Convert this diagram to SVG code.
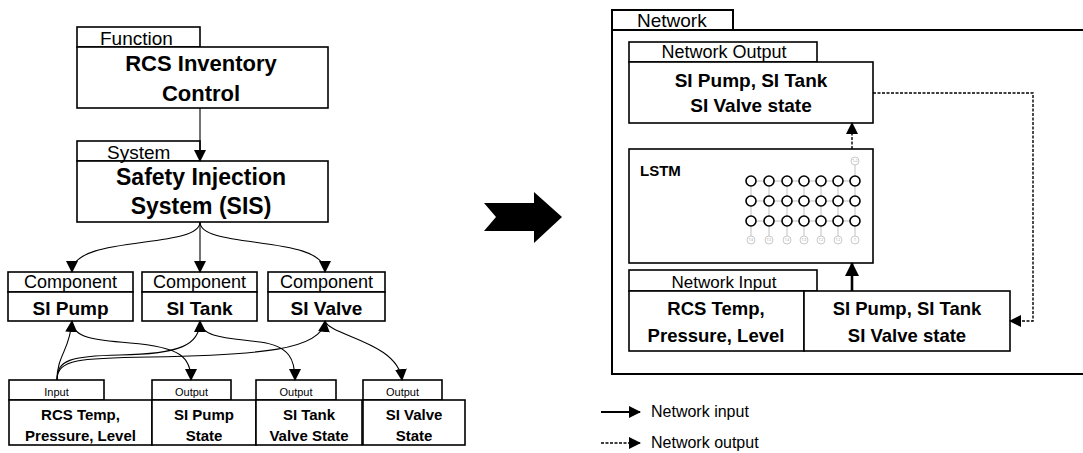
<svg xmlns="http://www.w3.org/2000/svg" width="1083" height="453" viewBox="0 0 1083 453">
<style>
.box{fill:#fff;stroke:#000;stroke-width:1.6}
.nbox{fill:#fff;stroke:#000;stroke-width:2}
.t{font-family:"Liberation Sans",Arial,sans-serif;fill:#000}
.b{font-weight:bold}
.c{text-anchor:middle}
.con{fill:none;stroke:#000;stroke-width:1.1}
.dash{fill:none;stroke:#000;stroke-width:1.4;stroke-dasharray:3,1.5}
.cell{fill:#fff;stroke:#000;stroke-width:1.6}
.inp{fill:#fff;stroke:#bbb;stroke-width:0.8}
.lk{stroke:#999;stroke-width:0.6}
.tiny{font-family:"Liberation Sans",Arial,sans-serif;font-size:3px;fill:#999;text-anchor:middle}
</style>
<defs>
<marker id="ah" markerUnits="userSpaceOnUse" markerWidth="12" markerHeight="12" viewBox="0 0 12 12" refX="11" refY="6" orient="auto">
<path d="M0,0 L12,6 L0,12 Z" fill="#000"/>
</marker>
<marker id="ahb" markerUnits="userSpaceOnUse" markerWidth="14" markerHeight="14" viewBox="0 0 14 14" refX="13" refY="7" orient="auto">
<path d="M0,0 L14,7 L0,14 Z" fill="#000"/>
</marker>
</defs>

<!-- Left hierarchy -->
<g id="function">
<rect class="box" x="77" y="27" width="123" height="20"/>
<rect class="box" x="77" y="47" width="251" height="61"/>
<text class="t" x="100" y="45" font-size="19">Function</text>
<text class="t b c" x="201" y="71" font-size="22">RCS Inventory</text>
<text class="t b c" x="201" y="101" font-size="22">Control</text>
</g>
<g id="system">
<rect class="box" x="77" y="141" width="123" height="20"/>
<rect class="box" x="77" y="161" width="251" height="61"/>
<text class="t" x="107" y="159" font-size="19">System</text>
<text class="t b c" x="201" y="185" font-size="23">Safety Injection</text>
<text class="t b c" x="201" y="214" font-size="23">System (SIS)</text>
</g>
<g id="si-pump">
<rect class="box" x="8" y="272" width="125" height="20"/>
<rect class="box" x="8" y="292" width="125" height="29"/>
<text class="t c" x="70.5" y="288" font-size="18">Component</text>
<text class="t b c" x="70.5" y="315" font-size="19">SI Pump</text>
</g>
<g id="si-tank">
<rect class="box" x="142" y="272" width="115" height="20"/>
<rect class="box" x="142" y="292" width="115" height="29"/>
<text class="t c" x="199.5" y="288" font-size="18">Component</text>
<text class="t b c" x="199.5" y="315" font-size="19">SI Tank</text>
</g>
<g id="si-valve">
<rect class="box" x="268" y="272" width="117" height="20"/>
<rect class="box" x="268" y="292" width="117" height="29"/>
<text class="t c" x="326.5" y="288" font-size="18">Component</text>
<text class="t b c" x="326.5" y="315" font-size="19">SI Valve</text>
</g>
<g id="input-rcs">
<rect class="box" x="9" y="380" width="95" height="20"/>
<rect class="box" x="9" y="400" width="143" height="45"/>
<text class="t c" x="56.5" y="396" font-size="11">Input</text>
<text class="t b c" x="80.5" y="420" font-size="15">RCS Temp,</text>
<text class="t b c" x="80.5" y="441" font-size="15">Pressure, Level</text>
</g>
<g id="output-pump">
<rect class="box" x="152" y="380" width="79" height="20"/>
<rect class="box" x="152" y="400" width="104" height="45"/>
<text class="t c" x="191.5" y="396" font-size="11">Output</text>
<text class="t b c" x="204" y="420" font-size="15">SI Pump</text>
<text class="t b c" x="204" y="441" font-size="15">State</text>
</g>
<g id="output-tank">
<rect class="box" x="256" y="380" width="80" height="20"/>
<rect class="box" x="256" y="400" width="106" height="45"/>
<text class="t c" x="296" y="396" font-size="11">Output</text>
<text class="t b c" x="309" y="420" font-size="15">SI Tank</text>
<text class="t b c" x="309" y="441" font-size="15">Valve State</text>
</g>
<g id="output-valve">
<rect class="box" x="363" y="380" width="79" height="20"/>
<rect class="box" x="363" y="400" width="102" height="45"/>
<text class="t c" x="402.5" y="396" font-size="11">Output</text>
<text class="t b c" x="414" y="420" font-size="15">SI Valve</text>
<text class="t b c" x="414" y="441" font-size="15">State</text>
</g>

<!-- Big arrow -->
<g id="transition-arrow">
<polygon points="484,203 534,203 534,192 562,217 534,243 534,231 484,231 496,217" fill="#000"/>
</g>

<!-- Network -->
<g id="network">
<rect class="nbox" x="612" y="10" width="121" height="20"/>
<rect class="nbox" x="612" y="30" width="480" height="344"/>
<text class="t" x="637" y="27" font-size="19">Network</text>
</g>
<g id="network-output">
<rect class="box" x="629" y="42" width="188" height="20"/>
<rect class="box" x="629" y="62" width="244" height="61"/>
<text class="t c" x="724" y="58" font-size="18">Network Output</text>
<text class="t b c" x="751" y="87" font-size="19">SI Pump, SI Tank</text>
<text class="t b c" x="751" y="112" font-size="19">SI Valve state</text>
</g>
<g id="lstm">
<rect class="box" x="629" y="149" width="244" height="114"/>
<text class="t b" x="640" y="176" font-size="15">LSTM</text>
<g id="lstm-links">
<line class="lk" x1="755" y1="181" x2="765" y2="181"/><line class="lk" x1="773" y1="181" x2="783" y2="181"/><line class="lk" x1="791" y1="181" x2="800" y2="181"/><line class="lk" x1="808" y1="181" x2="817" y2="181"/><line class="lk" x1="825" y1="181" x2="834" y2="181"/><line class="lk" x1="842" y1="181" x2="851" y2="181"/>
<line class="lk" x1="755" y1="201" x2="765" y2="201"/><line class="lk" x1="773" y1="201" x2="783" y2="201"/><line class="lk" x1="791" y1="201" x2="800" y2="201"/><line class="lk" x1="808" y1="201" x2="817" y2="201"/><line class="lk" x1="825" y1="201" x2="834" y2="201"/><line class="lk" x1="842" y1="201" x2="851" y2="201"/>
<line class="lk" x1="755" y1="221" x2="765" y2="221"/><line class="lk" x1="773" y1="221" x2="783" y2="221"/><line class="lk" x1="791" y1="221" x2="800" y2="221"/><line class="lk" x1="808" y1="221" x2="817" y2="221"/><line class="lk" x1="825" y1="221" x2="834" y2="221"/><line class="lk" x1="842" y1="221" x2="851" y2="221"/>
<line class="lk" x1="751" y1="186" x2="751" y2="196"/><line class="lk" x1="769" y1="186" x2="769" y2="196"/><line class="lk" x1="787" y1="186" x2="787" y2="196"/><line class="lk" x1="804" y1="186" x2="804" y2="196"/><line class="lk" x1="821" y1="186" x2="821" y2="196"/><line class="lk" x1="838" y1="186" x2="838" y2="196"/><line class="lk" x1="855" y1="186" x2="855" y2="196"/>
<line class="lk" x1="751" y1="206" x2="751" y2="216"/><line class="lk" x1="769" y1="206" x2="769" y2="216"/><line class="lk" x1="787" y1="206" x2="787" y2="216"/><line class="lk" x1="804" y1="206" x2="804" y2="216"/><line class="lk" x1="821" y1="206" x2="821" y2="216"/><line class="lk" x1="838" y1="206" x2="838" y2="216"/><line class="lk" x1="855" y1="206" x2="855" y2="216"/>
<line class="lk" x1="751" y1="226" x2="751" y2="236"/><line class="lk" x1="769" y1="226" x2="769" y2="236"/><line class="lk" x1="787" y1="226" x2="787" y2="236"/><line class="lk" x1="804" y1="226" x2="804" y2="236"/><line class="lk" x1="821" y1="226" x2="821" y2="236"/><line class="lk" x1="838" y1="226" x2="838" y2="236"/><line class="lk" x1="855" y1="226" x2="855" y2="236"/>
<line class="lk" x1="855" y1="165" x2="855" y2="176"/>
</g>
<g id="lstm-cells">
<circle class="cell" cx="751" cy="181" r="5"/><circle class="cell" cx="769" cy="181" r="5"/><circle class="cell" cx="787" cy="181" r="5"/><circle class="cell" cx="804" cy="181" r="5"/><circle class="cell" cx="821" cy="181" r="5"/><circle class="cell" cx="838" cy="181" r="5"/><circle class="cell" cx="855" cy="181" r="5"/>
<circle class="cell" cx="751" cy="201" r="5"/><circle class="cell" cx="769" cy="201" r="5"/><circle class="cell" cx="787" cy="201" r="5"/><circle class="cell" cx="804" cy="201" r="5"/><circle class="cell" cx="821" cy="201" r="5"/><circle class="cell" cx="838" cy="201" r="5"/><circle class="cell" cx="855" cy="201" r="5"/>
<circle class="cell" cx="751" cy="221" r="5"/><circle class="cell" cx="769" cy="221" r="5"/><circle class="cell" cx="787" cy="221" r="5"/><circle class="cell" cx="804" cy="221" r="5"/><circle class="cell" cx="821" cy="221" r="5"/><circle class="cell" cx="838" cy="221" r="5"/><circle class="cell" cx="855" cy="221" r="5"/>
<circle class="inp" cx="751" cy="240" r="4"/><circle class="inp" cx="769" cy="240" r="4"/><circle class="inp" cx="787" cy="240" r="4"/><circle class="inp" cx="804" cy="240" r="4"/><circle class="inp" cx="821" cy="240" r="4"/><circle class="inp" cx="838" cy="240" r="4"/><circle class="inp" cx="855" cy="240" r="4"/>
<circle class="inp" cx="855" cy="161" r="4"/>
<text class="tiny" x="751" y="241">T-6</text><text class="tiny" x="769" y="241">T-5</text><text class="tiny" x="787" y="241">T-4</text><text class="tiny" x="804" y="241">T-3</text><text class="tiny" x="821" y="241">T-2</text><text class="tiny" x="838" y="241">T-1</text><text class="tiny" x="855" y="241">T</text>
<text class="tiny" x="855" y="162">T+1</text>
</g>
</g>
<g id="network-input">
<rect class="box" x="629" y="270" width="188" height="21"/>
<rect class="box" x="629" y="291" width="175" height="60"/>
<rect class="box" x="804" y="291" width="206" height="60"/>
<text class="t c" x="724" y="288" font-size="17">Network Input</text>
<text class="t b c" x="716" y="315" font-size="18.5">RCS Temp,</text>
<text class="t b c" x="716" y="342" font-size="18.5">Pressure, Level</text>
<text class="t b c" x="907" y="315" font-size="18.5">SI Pump, SI Tank</text>
<text class="t b c" x="907" y="342" font-size="18.5">SI Valve state</text>
</g>
<g id="legend">
<line x1="601" y1="412" x2="640" y2="412" stroke="#000" stroke-width="2" marker-end="url(#ah)"/>
<line x1="601" y1="443" x2="640" y2="443" class="dash" marker-end="url(#ah)"/>
<text class="t" x="651" y="417" font-size="16">Network input</text>
<text class="t" x="651" y="448" font-size="16">Network output</text>
</g>

<!-- Connectors -->
<g id="connectors">
<path class="con" d="M200,108 L200,161" marker-end="url(#ah)"/>
<path class="con" d="M200,222 C200,250 72,234 72,272" marker-end="url(#ah)"/>
<path class="con" d="M200,222 L200,272" marker-end="url(#ah)"/>
<path class="con" d="M200,222 C200,250 325,234 325,272" marker-end="url(#ah)"/>
<path class="con" d="M57,380 C57,355 70,350 72,321" marker-end="url(#ah)"/>
<path class="con" d="M57,380 C57,360 70,356 120,355 C180,354 200,345 200,321" marker-end="url(#ah)"/>
<path class="con" d="M57,380 C57,359 80,358 150,357 C260,355 322,350 325,321" marker-end="url(#ah)"/>
<path class="con" d="M72,321 C72,338 95,340 130,343 C182,347 191,358 191,380" marker-end="url(#ah)"/>
<path class="con" d="M200,321 C200,338 230,338 260,342 C290,346 295,360 295,380" marker-end="url(#ah)"/>
<path class="con" d="M325,321 C330,336 398,342 402,380" marker-end="url(#ah)"/>
<path d="M852,291 L852,263" fill="none" stroke="#000" stroke-width="2.6" marker-end="url(#ahb)"/>
<path class="dash" d="M852,149 L852,123" marker-end="url(#ah)"/>
<path class="dash" d="M873,93 L1033,93 L1033,321 L1010,321" marker-end="url(#ah)"/>
</g>
</svg>
